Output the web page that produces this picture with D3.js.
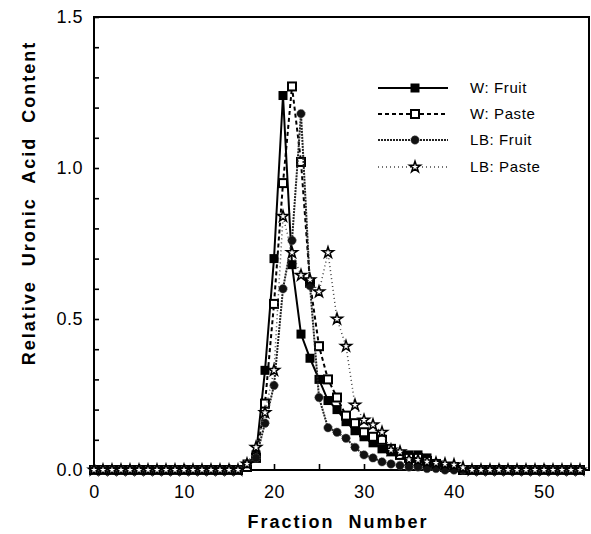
<!DOCTYPE html>
<html lang="en">
<head>
<meta charset="UTF-8">
<title>Uronic acid elution</title>
<script src="https://d3js.org/d3.v7.min.js"></script>
<style>
body{ margin:0; background:#fff; }
svg{ display:block; }
text{ font-family:"Liberation Sans", Arial, Helvetica, sans-serif; fill:#000; }
.axis path{ display:none; }
.axis line{ stroke:#000; stroke-width:1.6px; }
.axis text{ font-size:18px; letter-spacing:0.5px; }
.title{ font-size:18px; font-weight:bold; letter-spacing:2px; }
.legend text{ font-size:15px; letter-spacing:0.6px; }
</style>
</head>
<body>
<svg id="chart" width="591" height="534"></svg>
<script>
// fraction numbers and the four elution profiles
const fractions = d3.range(0, 55);

const wFruit = [0,0,0,0,0,0,0,0,0,0,0,0,0,0,0,0,0,
  0.02,0.05,0.33,0.70,1.24,0.68,0.45,0.37,0.30,0.23,0.20,0.16,0.13,0.11,0.09,0.07,0.06,0.05,0.05,0.05,0.04,0.02,0.01,0.01,
  0,0,0,0,0,0,0,0,0,0,0,0,0,0];

const wPaste = [0,0,0,0,0,0,0,0,0,0,0,0,0,0,0,0,0,
  0.01,0.04,0.22,0.55,0.95,1.27,1.02,0.62,0.41,0.30,0.24,0.18,0.155,0.125,0.11,0.10,0.07,0.05,0.04,0.04,0.03,0.02,0.01,0.01,
  0,0,0,0,0,0,0,0,0,0,0,0,0,0];

const lbFruit = [0,0,0,0,0,0,0,0,0,0,0,0,0,0,0,0,0,
  0.02,0.04,0.155,0.28,0.60,0.76,1.18,0.61,0.24,0.14,0.125,0.105,0.075,0.05,0.04,0.027,0.02,0.015,0.01,0.01,0.005,0.005,
  0,0,0,0,0,0,0,0,0,0,0,0,0,0,0,0];

const lbPaste = [0,0,0,0,0,0,0,0,0,0,0,0,0,0,0,0,0,
  0.02,0.075,0.19,0.33,0.84,0.72,0.645,0.63,0.59,0.72,0.50,0.41,0.215,0.165,0.15,0.125,0.066,0.06,0.035,0.033,0.027,0.023,0.02,0.017,0.008,
  0,0,0,0,0,0,0,0,0,0,0,0,0];

const seriesNames = ["W: Fruit", "W: Paste", "LB: Fruit", "LB: Paste"];
const xTicks = [0, 10, 20, 30, 40, 50];
const yTicks = [0, 0.5, 1.0, 1.5];

const svg = d3.select("#chart");
const m = {left: 94, right: 589, top: 17, bottom: 470};

const x = d3.scaleLinear().domain([0, 55]).range([m.left, m.right]);
const y = d3.scaleLinear().domain([0, 1.5]).range([m.bottom, m.top]);

// axes, ticks pointing inward
svg.append("g").attr("class", "axis")
  .attr("transform", `translate(0,${m.bottom})`)
  .call(d3.axisBottom(x).tickValues(d3.range(0, 55, 5)).tickSize(-6).tickPadding(15)
    .tickFormat(d => xTicks.includes(d) ? d : ""));

svg.append("g").attr("class", "axis")
  .attr("transform", `translate(${m.left},0)`)
  .call(d3.axisLeft(y).tickValues(d3.range(0, 16).map(i => i / 10)).tickSize(-5).tickPadding(11)
    .tickFormat(d => yTicks.some(t => Math.abs(t - d) < 1e-6) ? d3.format(".1f")(d) : ""));

// frame
svg.append("rect")
  .attr("x", m.left).attr("y", m.top)
  .attr("width", m.right - m.left).attr("height", m.bottom - m.top)
  .attr("fill", "none").attr("stroke", "#000").attr("stroke-width", 2);

// titles
svg.append("text").attr("class", "title")
  .attr("x", 338).attr("y", 528)
  .attr("text-anchor", "middle")
  .attr("xml:space", "preserve")
  .text("Fraction  Number");

svg.append("text").attr("class", "title")
  .attr("transform", `translate(35,203) rotate(-90)`)
  .attr("text-anchor", "middle")
  .attr("xml:space", "preserve")
  .text("Relative  Uronic  Acid  Content");

// series styles
const styles = [
  {data: wFruit,  dash: null,  width: 2,   stroke: "#000", marker: "fsquare"},
  {data: wPaste,  dash: "4,3", width: 2,   stroke: "#000", marker: "osquare"},
  {data: lbFruit, dash: "2,1", width: 2,   stroke: "#222", marker: "fcircle"},
  {data: lbPaste, dash: "1,3", width: 1.5, stroke: "#444", marker: "ostar"}
];

const line = d3.line().x((d, i) => x(fractions[i])).y(d => y(d));

function drawMarker(g, type, cx, cy) {
  if (type === "fsquare") {
    g.append("rect").attr("x", cx - 4.5).attr("y", cy - 4.5).attr("width", 9).attr("height", 9)
      .attr("fill", "#000");
  } else if (type === "osquare") {
    g.append("rect").attr("x", cx - 4).attr("y", cy - 4).attr("width", 8).attr("height", 8)
      .attr("fill", "#fff").attr("stroke", "#000").attr("stroke-width", 2);
  } else if (type === "fcircle") {
    g.append("circle").attr("cx", cx).attr("cy", cy).attr("r", 4.2)
      .attr("fill", "#111").attr("stroke", "#555").attr("stroke-width", 1).attr("stroke-dasharray", "1,1");
  } else {
    g.append("path").attr("d", d3.symbol(d3.symbolStar, 38)())
      .attr("transform", `translate(${cx},${cy})`)
      .attr("fill", "#fff").attr("stroke", "#000").attr("stroke-width", 1.5);
  }
}

styles.forEach(s => {
  svg.append("path")
    .datum(s.data)
    .attr("d", line)
    .attr("fill", "none")
    .attr("stroke", s.stroke)
    .attr("stroke-width", s.width)
    .attr("stroke-dasharray", s.dash);
  const g = svg.append("g");
  s.data.forEach((v, i) => drawMarker(g, s.marker, x(fractions[i]), y(v)));
});

// legend
const legend = svg.append("g").attr("class", "legend");
const rowY = [88, 114, 140, 167];
styles.forEach((s, i) => {
  legend.append("line")
    .attr("x1", 378).attr("x2", 448)
    .attr("y1", rowY[i]).attr("y2", rowY[i])
    .attr("stroke", s.stroke).attr("stroke-width", s.width)
    .attr("stroke-dasharray", s.dash);
  drawMarker(legend, s.marker, 415, rowY[i]);
  legend.append("text")
    .attr("x", 470).attr("y", rowY[i] + 5)
    .text(seriesNames[i]);
});
</script>
</body>
</html>
